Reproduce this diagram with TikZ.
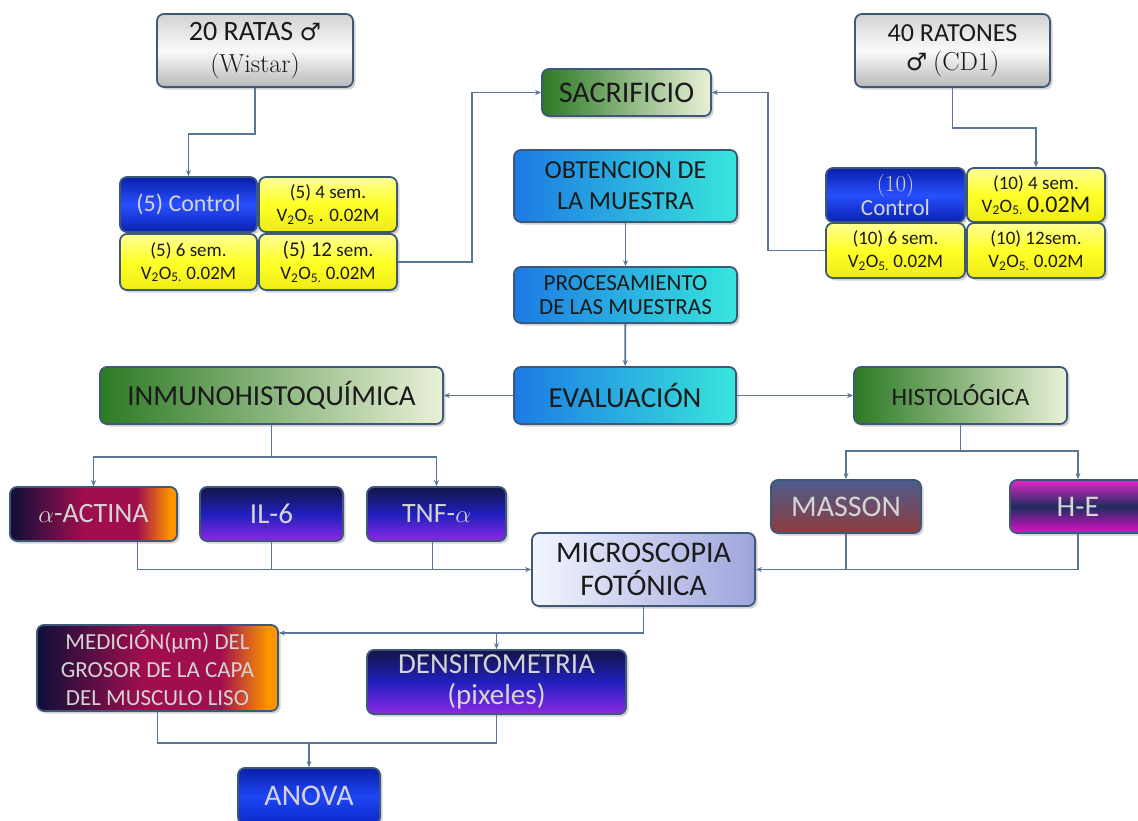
\documentclass[tikz,border=0pt]{standalone}
\usepackage{fontspec}
\newfontfamily\carl{Carlito}
\newfontfamily\dvs{DejaVu Sans}
\usetikzlibrary{shadows,arrows.meta,calc}
\definecolor{bord}{HTML}{3D5878}
\definecolor{lnc}{HTML}{5A7596}
\definecolor{dtx}{HTML}{1A1A1A}
\definecolor{ltx}{HTML}{D4D4D4}
\definecolor{ac1}{RGB}{14,14,56}
\definecolor{ac2}{RGB}{160,14,78}
\definecolor{ac3}{RGB}{255,150,0}
\pgfdeclarehorizontalshading{actsh}{100bp}{color(0bp)=(ac1); color(25bp)=(ac1); color(47bp)=(ac2); color(63bp)=(ac2); color(73bp)=(ac3); color(100bp)=(ac3)}
\newcommand{\fz}[1]{\fontsize{#1}{\the\dimexpr #1pt*6/5\relax}\selectfont}
\tikzset{
 bx/.style={draw=bord, line width=1.8pt, rounded corners=7pt,
   drop shadow={opacity=0.35, shadow xshift=2.5pt, shadow yshift=-2.5pt},
   align=center, inner sep=1pt},
 fs/.style={font=\carl\fz{#1}},
 metal/.style={bx, top color=gray!35, bottom color=gray!55, middle color=white!96!gray, text=dtx},
 grn/.style={bx, left color={rgb,255:red,44;green,122;blue,36}, right color={rgb,255:red,234;green,241;blue,216}, text=dtx},
 cyan/.style={bx, left color={rgb,255:red,28;green,122;blue,228}, right color={rgb,255:red,56;green,230;blue,220}, text=dtx},
 ctrl/.style={bx, top color={rgb,255:red,10;green,30;blue,170}, bottom color={rgb,255:red,10;green,32;blue,176}, middle color={rgb,255:red,40;green,80;blue,255}, text=ltx},
 yel/.style={bx, top color={rgb,255:red,255;green,255;blue,150}, bottom color={rgb,255:red,240;green,235;blue,20}, middle color={rgb,255:red,255;green,255;blue,40}, text=dtx},
 actn/.style={bx, shading=actsh, text=ltx},
 purp/.style={bx, top color={rgb,255:red,20;green,20;blue,72}, bottom color={rgb,255:red,140;green,40;blue,228}, middle color={rgb,255:red,32;green,32;blue,190}, text=ltx},
 mass/.style={bx, top color={rgb,255:red,76;green,92;blue,142}, bottom color={rgb,255:red,142;green,60;blue,60}, text=ltx},
 hebx/.style={bx, top color={rgb,255:red,226;green,40;blue,200}, bottom color={rgb,255:red,224;green,16;blue,200}, middle color={rgb,255:red,30;green,44;blue,94}, text=ltx},
 micr/.style={bx, left color={rgb,255:red,242;green,246;blue,255}, right color={rgb,255:red,158;green,164;blue,220}, text=dtx},
 anv/.style={bx, top color={rgb,255:red,10;green,30;blue,170}, bottom color={rgb,255:red,10;green,40;blue,200}, middle color={rgb,255:red,30;green,70;blue,245}, text=ltx},
 ln/.style={draw=lnc, line width=1.8pt},
 arr/.style={ln, -{Stealth[length=6pt,width=5pt]}},
}
\begin{document}
\begin{tikzpicture}[x=1pt,y=-1pt]
\useasboundingbox (0,0) rectangle (1138,820);
% top
\node[metal, fs=28, minimum width=196, minimum height=73] (rat) at (255,50.5) {20 RATAS {\dvs\fz{24}♂}\\[-2pt]{\rmfamily\fz{26}(Wistar)}};
\node[metal, fs=26, minimum width=195, minimum height=73] (raton) at (952.5,50.5) {40 RATONES\\[-2pt]{\dvs\fz{24}♂} {\rmfamily\fz{26}(CD1)}};
\node[grn, fs=30, minimum width=169, minimum height=47] (sac) at (626.5,92.5) {SACRIFICIO};
\node[cyan, fs=26, minimum width=223, minimum height=72] (obt) at (625.5,186) {OBTENCION DE\\LA MUESTRA};
\node[cyan, fs=23, minimum width=223, minimum height=56] (proc) at (625.5,295) {PROCESAMIENTO\\[-3pt]DE LAS MUESTRAS};
\node[cyan, fs=29, minimum width=222, minimum height=57] (eval) at (625,395.5) {EVALUACIÓN};
\node[grn, fs=29, minimum width=343, minimum height=57] (inm) at (271.5,395.5) {INMUNOHISTOQUÍMICA};
\node[grn, fs=25, minimum width=213, minimum height=57] (hist) at (960.5,395.5) {HISTOLÓGICA};
% left groups
\node[ctrl, fs=24, minimum width=137, minimum height=55] (lc) at (188.5,204.5) {(5) Control};
\node[yel, fs=19, minimum width=138, minimum height=55] (l4) at (328,204.5) {(5) 4 sem.\\V\textsubscript{2}O\textsubscript{5} . 0.02M};
\node[yel, fs=19, minimum width=137, minimum height=56] (l6) at (188.5,262) {(5) 6 sem.\\V\textsubscript{2}O\textsubscript{5.} 0.02M};
\node[yel, fs=19, minimum width=138, minimum height=56] (l12) at (328,262) {{\fz{21}(5) 12} sem.\\V\textsubscript{2}O\textsubscript{5.} 0.02M};
% right groups
\node[ctrl, fs=23, minimum width=139, minimum height=54] (rc) at (895.5,195) {{\rmfamily(10)}\\[-4pt]Control};
\node[yel, fs=19, minimum width=138, minimum height=54] (r4) at (1036,195) {(10) 4 sem.\\V\textsubscript{2}O\textsubscript{5.} {\fz{24}0.02M}};
\node[yel, fs=19, minimum width=139, minimum height=55] (r6) at (895.5,250.5) {(10) 6 sem.\\V\textsubscript{2}O\textsubscript{5.} 0.02M};
\node[yel, fs=19, minimum width=138, minimum height=55] (r12) at (1036,250.5) {(10) 12sem.\\V\textsubscript{2}O\textsubscript{5.} 0.02M};
% second level
\node[actn, fs=28, minimum width=167, minimum height=54] (act) at (93.5,514) {$\alpha$-ACTINA};
\node[purp, fs=29, minimum width=143, minimum height=54] (il6) at (271.5,514) {IL-6};
\node[purp, fs=28, minimum width=139, minimum height=54] (tnf) at (436.5,514) {TNF-$\alpha$};
\node[mass, fs=30, minimum width=150, minimum height=53] (mas) at (846,506.5) {MASSON};
\node[hebx, fs=30, minimum width=136, minimum height=53] (he) at (1078,506.5) {H-E};
\node[micr, fs=30, minimum width=223, minimum height=73] (mic) at (643.5,569.5) {MICROSCOPIA\\[-3pt]FOTÓNICA};
\node[actn, fs=23, minimum width=241, minimum height=86] (med) at (157.5,668) {MEDICIÓN(\textmu m) DEL\\GROSOR DE LA CAPA\\DEL MUSCULO LISO};
\node[purp, fs=29, minimum width=259, minimum height=64] (den) at (496.5,682) {DENSITOMETRIA\\[-3pt](pixeles)};
\node[anv, fs=30, minimum width=142, minimum height=56] (anova) at (309,796) {ANOVA};
% connectors
\draw[arr] (rat.south) -- ++(0,46) -| (lc.north);
\draw[arr] (raton.south) -- ++(0,40) -| (r4.north);
\draw[arr] (l12.east) -- ++(74,0) |- (sac.west);
\draw[arr] (r6.west) -- ++(-57,0) |- (sac.east);
\draw[arr] (obt) -- (proc);
\draw[arr] (proc) -- (eval);
\draw[arr] (eval) -- (inm);
\draw[arr] (eval) -- (hist);
\draw[arr] (inm.south) -- ++(0,32) -| (act.north);
\draw[arr] (inm.south) -- ++(0,32) -| (tnf.north);
\draw[arr] (hist.south) -- ++(0,26) -| (mas.north);
\draw[arr] (hist.south) -- ++(0,26) -| (he.north);
\draw[arr] ([xshift=44pt]act.south) |- (mic.west);
\draw[ln] (il6.south) -- (il6.south |- mic.west);
\draw[ln] ([xshift=-4pt]tnf.south) -- ([xshift=-4pt]tnf.south |- mic.west);
\draw[arr] (he.south) |- (mic.east);
\draw[ln] (mas.south) -- (mas.south |- mic.east);
\coordinate (mj) at ($(med.east)+(0,-35)$);
\draw[arr] (mic.south) |- (mj);
\draw[arr] (den.north |- mj) -- (den.north);
\coordinate (aj) at ($(med.south)+(0,31)$);
\draw[ln] (med.south) -- (aj) -| (den.south);
\draw[arr] (anova.north |- aj) -- (anova.north);
\end{tikzpicture}
\end{document}
